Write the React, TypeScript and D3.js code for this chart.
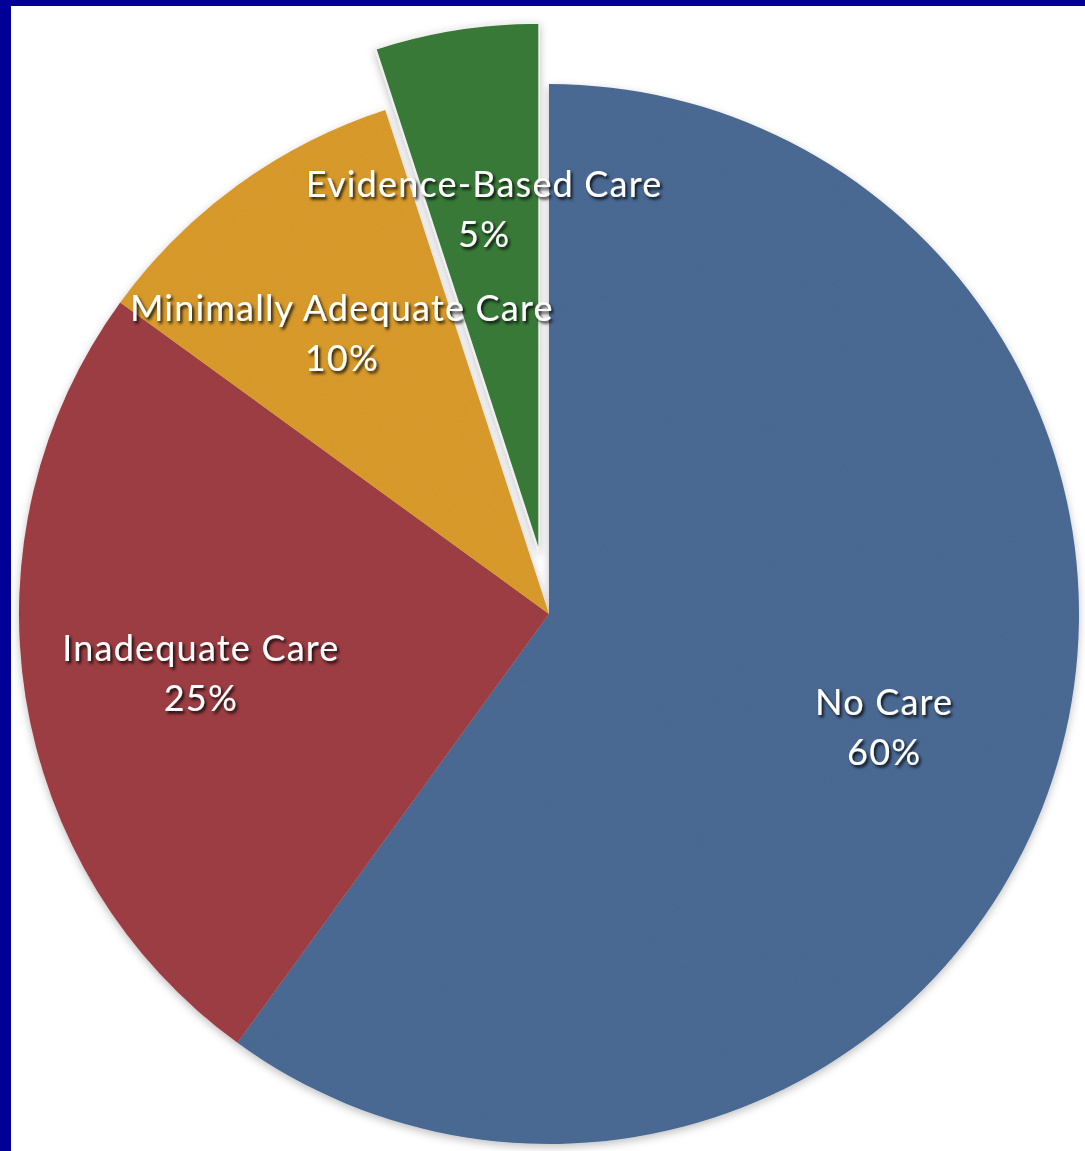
import React from "react";
import * as d3 from "d3";

const categories = ["No Care", "Inadequate Care", "Minimally Adequate Care", "Evidence-Based Care"];
const values = [60, 25, 10, 5];
const palette = ["#4b6b94", "#9e3f44", "#da9b2e", "#3a7b3b"];
const explodedCategory = "Evidence-Based Care";

const W = 1085;
const H = 1151;
const CX = 549;
const CY = 614;
const R = 530;
const EXPLODE = 62;
const LABEL_R = R * 0.665;

export default function App() {
  const pie = d3
    .pie<number>()
    .sort(null)
    .value((d) => d)
    .startAngle(0)
    .endAngle(2 * Math.PI);
  const arcs = pie(values);
  const arcGen = d3.arc<d3.PieArcDatum<number>>().innerRadius(0).outerRadius(R);
  const labelArc = d3
    .arc<d3.PieArcDatum<number>>()
    .innerRadius(LABEL_R)
    .outerRadius(LABEL_R);

  const offsetOf = (a: d3.PieArcDatum<number>, i: number) => {
    if (categories[i] !== explodedCategory) return [0, 0];
    const mid = (a.startAngle + a.endAngle) / 2;
    return [Math.sin(mid) * EXPLODE, -Math.cos(mid) * EXPLODE];
  };

  return (
    <svg
      width={W}
      height={H}
      style={{ position: "absolute", left: 0, top: 0, display: "block" }}
    >
      <defs>
        <filter id="pieShadow" x="-10%" y="-10%" width="120%" height="120%">
          <feDropShadow dx="0" dy="3" stdDeviation="4" floodColor="#000" floodOpacity="0.25" />
        </filter>
        <filter id="textShadow" x="-10%" y="-30%" width="120%" height="160%">
          <feDropShadow dx="2" dy="2.5" stdDeviation="1.6" floodColor="#000" floodOpacity="0.85" />
        </filter>
        <filter id="grain" x="0" y="0" width="100%" height="100%">
          <feTurbulence type="fractalNoise" baseFrequency="0.9" numOctaves="2" seed="3" result="noise" />
          <feColorMatrix
            in="noise"
            type="matrix"
            values="0 0 0 0 0  0 0 0 0 0  0 0 0 0 0  0 0 0 0.07 0"
            result="dark"
          />
          <feComposite in="dark" in2="SourceGraphic" operator="in" result="darkIn" />
          <feMerge>
            <feMergeNode in="SourceGraphic" />
            <feMergeNode in="darkIn" />
          </feMerge>
        </filter>
      </defs>
      <rect x={0} y={0} width={W} height={H} fill="#ffffff" />
      <g transform={`translate(${CX},${CY})`}>
        <g filter="url(#pieShadow)">
          {arcs.map((a, i) => {
            const [dx, dy] = offsetOf(a, i);
            const exploded = categories[i] === explodedCategory;
            return (
              <path
                key={categories[i]}
                d={arcGen(a) || ""}
                transform={`translate(${dx},${dy})`}
                fill={palette[i]}
                filter="url(#grain)"
                stroke={exploded ? "#f4f4f4" : "none"}
                strokeWidth={exploded ? 2 : 0}
              />
            );
          })}
        </g>
        {arcs.map((a, i) => {
          const [dx, dy] = offsetOf(a, i);
          const [lx, ly] = labelArc.centroid(a);
          const pct = Math.round((values[i] / d3.sum(values)) * 100) + "%";
          return (
            <text
              key={"l" + categories[i]}
              transform={`translate(${lx + dx},${ly + dy})`}
              textAnchor="middle"
              fill="#ffffff"
              fontFamily="Lato, 'Open Sans', sans-serif"
              fontSize={36}
              letterSpacing={1.2}
              filter="url(#textShadow)"
            >
              <tspan x={0} dy={-8}>{categories[i]}</tspan>
              <tspan x={0} dy={50}>{pct}</tspan>
            </text>
          );
        })}
      </g>
      <rect x={0} y={0} width={W} height={6} fill="#000099" />
      <rect x={0} y={0} width={11} height={H} fill="#000099" />
    </svg>
  );
}
